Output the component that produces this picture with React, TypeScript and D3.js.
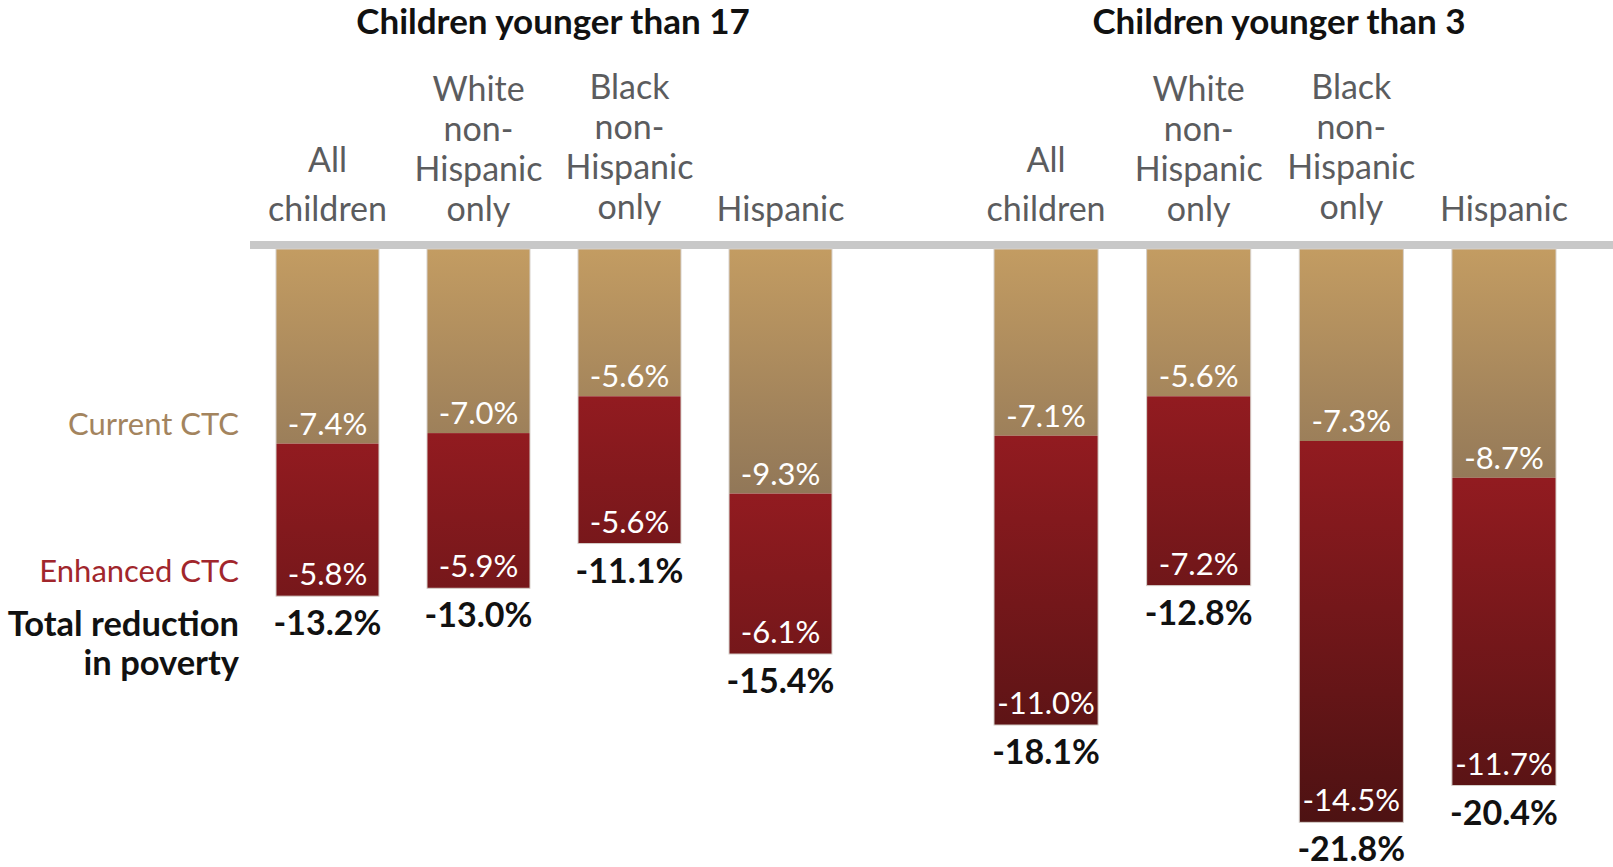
import React from "react";
import * as d3 from "d3";

const groupTitles = ["Children younger than 17", "Children younger than 3"];
const categories = [
  ["All", "children"],
  ["White", "non-", "Hispanic", "only"],
  ["Black", "non-", "Hispanic", "only"],
  ["Hispanic"],
];
const currentU17 = [7.4, 7.0, 5.6, 9.3];
const enhancedU17 = [5.8, 5.9, 5.6, 6.1];
const totalU17 = [13.2, 13.0, 11.1, 15.4];
const currentU3 = [7.1, 5.6, 7.3, 8.7];
const enhancedU3 = [11.0, 7.2, 14.5, 11.7];
const totalU3 = [18.1, 12.8, 21.8, 20.4];
const legendLabels = ["Current CTC", "Enhanced CTC", "Total reduction", "in poverty"];

const W = 1613;
const H = 867;
const FONT = "Lato, 'Open Sans', sans-serif";
const TOP = 249;

const fmt = (v: number) => `-${v.toFixed(1)}%`;

export default function App() {
  const y = d3.scaleLinear().domain([0, 22]).range([TOP, TOP + 22 * 26.3]);
  const keys = categories.map((c) => c.join(" "));
  const xLeft = d3.scaleBand<string>().domain(keys).range([276, 832]).paddingInner(0.318).paddingOuter(0);
  const xRight = d3.scaleBand<string>().domain(keys).range([994, 1556]).paddingInner(0.318).paddingOuter(0);

  const groups = [
    { title: groupTitles[0], x: xLeft, cur: currentU17, enh: enhancedU17, tot: totalU17 },
    { title: groupTitles[1], x: xRight, cur: currentU3, enh: enhancedU3, tot: totalU3 },
  ];

  const redTop = "#921b20";
  const redBottom = "#461111";

  return (
    <svg width={W} height={H} style={{ position: "absolute", left: 0, top: 0, background: "#fff" }} fontFamily={FONT}>
      <defs>
        <linearGradient id="tanGrad" gradientUnits="userSpaceOnUse" x1="0" x2="0" y1={TOP} y2={y(9.3)}>
          <stop offset="0" stopColor="#c39c62" />
          <stop offset="1" stopColor="#917758" />
        </linearGradient>
        {groups.map((g, gi) =>
          keys.map((k, i) => {
            const top = y(g.cur[i]);
            return (
              <linearGradient
                key={`rg${gi}-${i}`}
                id={`redGrad${gi}-${i}`}
                gradientUnits="userSpaceOnUse"
                x1="0"
                x2="0"
                y1={top}
                y2={top + 420}
              >
                <stop offset="0" stopColor={redTop} />
                <stop offset="1" stopColor={redBottom} />
              </linearGradient>
            );
          })
        )}
      </defs>

      <rect x={250} y={241} width={W - 250} height={8} fill="#c8c8c8" />

      {groups.map((g, gi) => {
        return (
          <g key={gi}>
            <text
              x={gi === 0 ? 553 : 1279}
              y={34}
              textAnchor="middle"
              fontWeight={700}
              fontSize={35}
              fill="#111"
            >
              {g.title}
            </text>
            {keys.map((k, i) => {
              const x0 = g.x(k)!;
              const bw = g.x.bandwidth();
              const cx = x0 + bw / 2;
              const yc = y(g.cur[i]);
              const yb = y(g.cur[i] + g.enh[i]);
              const lines = categories[i];
              const gap = lines.length === 2 ? 49 : 40;
              const base = 221 - (i === 2 ? 2 : 0);
              return (
                <g key={k}>
                  {lines.map((ln, li) => (
                    <text
                      key={li}
                      x={cx}
                      y={base - (lines.length - 1 - li) * gap}
                      textAnchor="middle"
                      fontSize={34}
                      fill="#5b5c5e"
                    >
                      {ln}
                    </text>
                  ))}
                  <rect x={x0} y={TOP} width={bw} height={yc - TOP} fill="url(#tanGrad)" />
                  <rect x={x0} y={yc} width={bw} height={yb - yc} fill={`url(#redGrad${gi}-${i})`} />
                  <rect
                    x={x0}
                    y={TOP}
                    width={bw}
                    height={yb - TOP}
                    fill="none"
                    stroke="#d6d0ca"
                    strokeWidth={1}
                  />
                  <text x={cx} y={yc - 9} textAnchor="middle" fontSize={31} fill="#fff">
                    {fmt(g.cur[i])}
                  </text>
                  <text x={cx} y={yb - 11} textAnchor="middle" fontSize={31} fill="#fff">
                    {fmt(g.enh[i])}
                  </text>
                  <text x={cx} y={yb + 39} textAnchor="middle" fontSize={34} fontWeight={700} fill="#111">
                    {fmt(g.tot[i])}
                  </text>
                </g>
              );
            })}
          </g>
        );
      })}

      <text x={239} y={435} textAnchor="end" fontSize={31} fill="#a3845e">
        {legendLabels[0]}
      </text>
      <text x={239} y={582} textAnchor="end" fontSize={31} fill="#a1262c">
        {legendLabels[1]}
      </text>
      <text x={239} y={636} textAnchor="end" fontSize={34.5} fontWeight={700} fill="#111">
        {legendLabels[2]}
      </text>
      <text x={239} y={675} textAnchor="end" fontSize={34.5} fontWeight={700} fill="#111">
        {legendLabels[3]}
      </text>
    </svg>
  );
}
